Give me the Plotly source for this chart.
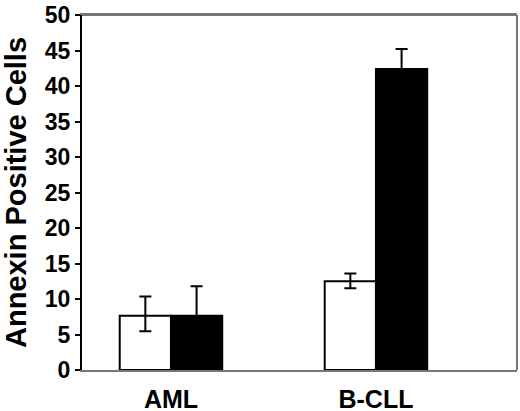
import plotly.graph_objects as go

# data
groups = ['AML', 'B-CLL']
control = [7.65, 12.5]
control_err_up = [2.7, 1.1]
control_err_down = [2.2, 1.0]
treated = [7.65, 42.4]
treated_err = [4.15, 2.8]

font_family = 'Liberation Sans, Arial, sans-serif'

fig = go.Figure()

fig.add_trace(go.Bar(
    x=groups,
    y=control,
    name='control',
    marker=dict(color='white', line=dict(color='black', width=2)),
    error_y=dict(type='data', array=control_err_up, arrayminus=control_err_down,
                 symmetric=False, color='black', thickness=2, width=6)
))

fig.add_trace(go.Bar(
    x=groups,
    y=treated,
    name='treated',
    marker=dict(color='black', line=dict(color='black', width=2)),
    error_y=dict(type='data', array=treated_err, color='black', thickness=2, width=6)
))

fig.update_layout(
    width=520,
    height=411,
    barmode='group',
    bargap=0.5,
    bargroupgap=0,
    showlegend=False,
    plot_bgcolor='white',
    paper_bgcolor='white',
    margin=dict(l=82, r=3, t=15, b=41),
    font=dict(family=font_family, color='black'),
    xaxis=dict(
        type='category',
        range=[-0.434, 1.688],
        automargin=False,
        showline=True,
        linecolor='#777777',
        linewidth=2,
        mirror=True,
        ticks='',
        showgrid=False,
        ticklabelstandoff=6,
        tickfont=dict(size=25, weight='bold', family=font_family)
    ),
    yaxis=dict(
        range=[0, 50],
        dtick=5,
        automargin=False,
        showline=True,
        linecolor='black',
        linewidth=2,
        ticks='outside',
        ticklen=5,
        tickwidth=1.5,
        tickcolor='black',
        showgrid=False,
        zeroline=False,
        ticklabeloverflow='allow',
        tickfont=dict(size=23, weight='bold', family=font_family),
        title=dict(text='Annexin Positive Cells', standoff=10,
                   font=dict(size=29, weight='bold', family=font_family))
    )
)

# grey frame on top and right
fig.add_shape(type='line', xref='paper', yref='paper', x0=0, x1=1, y0=1, y1=1,
              line=dict(color='#777777', width=2))
fig.add_shape(type='line', xref='paper', yref='paper', x0=1, x1=1, y0=0, y1=1,
              line=dict(color='#777777', width=2))

# drop the default page margin so the figure fills the window
fig.write_html('out.html', config={'displayModeBar': False},
               post_script="document.body.style.margin='0';")
